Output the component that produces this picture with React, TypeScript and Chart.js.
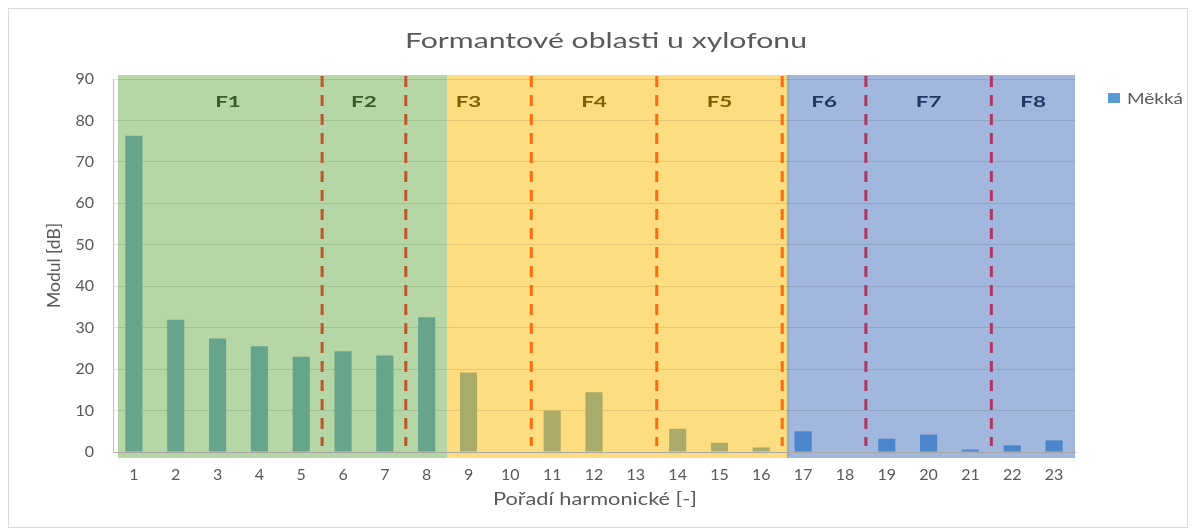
import React, { useEffect, useRef } from 'react';
import { Chart, registerables } from 'chart.js';

Chart.register(...registerables);

// ---- data ----
const harmonics = ['1', '2', '3', '4', '5', '6', '7', '8', '9', '10', '11', '12', '13', '14', '15', '16', '17', '18', '19', '20', '21', '22', '23'];
const modulDb = [76.3, 31.9, 27.4, 25.5, 23.0, 24.3, 23.3, 32.5, 19.2, 0, 10.0, 14.4, 0, 5.6, 2.2, 1.1, 5.0, 0, 3.2, 4.2, 0.6, 1.6, 2.8];
const seriesName = 'Měkká';
const chartTitle = 'Formantové oblasti u xylofonu';
const xTitle = 'Pořadí harmonické [-]';
const yTitle = 'Modul [dB]';
const yMin = 0;
const yMax = 90;
const yStep = 10;

// formant regions (in harmonic-number units)
const formantNames = ['F1', 'F2', 'F3', 'F4', 'F5', 'F6', 'F7', 'F8'];
const formantLabelAt = [3.25, 6.5, 9, 12, 15, 17.5, 20, 22.5];
const formantDividers = [5.5, 7.5, 10.5, 13.5, 16.5, 18.5, 21.5];
const zoneEdges = [0.62, 8.5, 16.63, 23.5];

// ---- styles ----
const zoneFill = ['#b6d6a6', '#fedd81', '#a1b7dd'];
const zoneBar = ['#66a48c', '#abab69', '#4b86cc'];
const zoneDash = ['#c0562a', '#ff6a10', '#b03562'];
const zoneText = ['#3b5a28', '#7f6000', '#1f3864'];
const legendColor = '#5b9bd5';
const textColor = '#595959';
const FONT = 'Lato';

const zoneOf = (h: number) => (h < zoneEdges[1] ? 0 : h < zoneEdges[2] ? 1 : 2);

const hx = (chart: any, h: number) => {
  const x = chart.scales.x;
  const x0 = x.getPixelForValue(0);
  const x1 = x.getPixelForValue(1);
  return x0 + (h - 1) * (x1 - x0);
};

// draw text stretched along its direction to a given width
function stretchText(ctx: CanvasRenderingContext2D, text: string, x: number, y: number, width: number, rotation = 0) {
  const w = ctx.measureText(text).width;
  ctx.save();
  ctx.translate(x, y);
  ctx.rotate(rotation);
  ctx.scale(width / w, 1);
  ctx.fillText(text, 0, 0);
  ctx.restore();
}

const formantPlugin = {
  id: 'formants',
  beforeDraw(chart: any) {
    const { ctx, chartArea } = chart;
    ctx.save();
    for (let i = 0; i < 3; i++) {
      const l = hx(chart, zoneEdges[i]);
      const r = hx(chart, zoneEdges[i + 1]);
      ctx.fillStyle = zoneFill[i];
      ctx.fillRect(l, chartArea.top - 4, r - l, chartArea.bottom - chartArea.top + 10);
    }
    const bl = hx(chart, zoneEdges[2]);
    ctx.fillStyle = 'rgba(0,0,0,0.15)';
    ctx.fillRect(bl - 1, chartArea.top - 4, 2, chartArea.bottom - chartArea.top + 10);
    ctx.restore();
  },
  afterDatasetsDraw(chart: any) {
    const { ctx, chartArea } = chart;
    ctx.save();
    ctx.lineWidth = 3;
    ctx.setLineDash([11, 8]);
    formantDividers.forEach((d) => {
      const x = hx(chart, d);
      ctx.strokeStyle = zoneDash[zoneOf(d)];
      ctx.beginPath();
      ctx.moveTo(x, chartArea.top - 3);
      ctx.lineTo(x, chartArea.bottom - 6);
      ctx.stroke();
    });
    ctx.restore();
  },
  afterDraw(chart: any) {
    const { ctx, chartArea, width } = chart;
    ctx.save();
    // formant labels
    ctx.font = `bold 16px ${FONT}`;
    ctx.textAlign = 'center';
    ctx.textBaseline = 'middle';
    formantNames.forEach((n, i) => {
      const h = formantLabelAt[i];
      ctx.fillStyle = zoneText[zoneOf(h)];
      const w = ctx.measureText(n).width;
      stretchText(ctx, n, hx(chart, h), chartArea.top + 23, w * 1.4);
    });
    // chart title
    ctx.fillStyle = textColor;
    ctx.font = `22px ${FONT}`;
    ctx.textBaseline = 'alphabetic';
    stretchText(ctx, chartTitle, width / 2 + 8, 39, 402);
    // x axis title
    ctx.font = `17px ${FONT}`;
    stretchText(ctx, xTitle, (chartArea.left + chartArea.right) / 2 + 1, 496, 204);
    // y axis title
    ctx.textBaseline = 'middle';
    stretchText(ctx, yTitle, 46, (chartArea.top + chartArea.bottom) / 2, 85, -Math.PI / 2);
    // legend
    const lx = chartArea.right + 33;
    ctx.fillStyle = legendColor;
    ctx.fillRect(lx, chartArea.top + 14, 12, 10);
    ctx.fillStyle = textColor;
    ctx.font = `15px ${FONT}`;
    ctx.textAlign = 'left';
    ctx.textBaseline = 'alphabetic';
    const tw = ctx.measureText(seriesName).width;
    ctx.save();
    ctx.translate(lx + 19, chartArea.top + 25);
    ctx.scale(56 / tw, 1);
    ctx.fillText(seriesName, 0, 0);
    ctx.restore();
    ctx.restore();
  },
};

export default function App() {
  const ref = useRef<HTMLCanvasElement | null>(null);

  useEffect(() => {
    if (!ref.current) return;
    const chart = new Chart(ref.current, {
      type: 'bar',
      data: {
        labels: harmonics,
        datasets: [
          {
            label: seriesName,
            data: modulDb,
            backgroundColor: harmonics.map((h) => zoneBar[zoneOf(Number(h))]),
            barPercentage: 0.41,
            categoryPercentage: 1,
          },
        ],
      },
      options: {
        animation: false,
        responsive: true,
        maintainAspectRatio: false,
        layout: { padding: { left: 0, right: 112, top: 70, bottom: 0 } },
        plugins: {
          legend: { display: false },
          tooltip: { enabled: false },
          title: { display: false },
        },
        scales: {
          x: {
            grid: { display: false, drawTicks: false },
            border: { display: true, color: '#a6a6a6', width: 1 },
            ticks: {
              color: textColor,
              font: { family: FONT, size: 16 },
              padding: 13,
              autoSkip: false,
              maxRotation: 0,
            },
            afterFit: (s: any) => {
              s.height = 75;
            },
          },
          y: {
            min: yMin,
            max: yMax,
            ticks: {
              stepSize: yStep,
              color: textColor,
              font: { family: FONT, size: 16 },
              padding: 19,
            },
            grid: { color: 'rgba(0,0,0,0.1)', drawTicks: false },
            border: { display: true, color: '#bfbfbf', width: 1 },
            afterFit: (s: any) => {
              s.width = 104;
            },
          },
        },
      },
      plugins: [formantPlugin],
    });
    return () => chart.destroy();
  }, []);

  return (
    <div
      style={{
        width: 1180,
        height: 520,
        border: '1px solid #d9d9d9',
        boxSizing: 'border-box',
        position: 'relative',
        background: '#fff',
      }}
    >
      <div style={{ position: 'relative', width: 1178, height: 518 }}>
        <canvas ref={ref} />
      </div>
    </div>
  );
}
